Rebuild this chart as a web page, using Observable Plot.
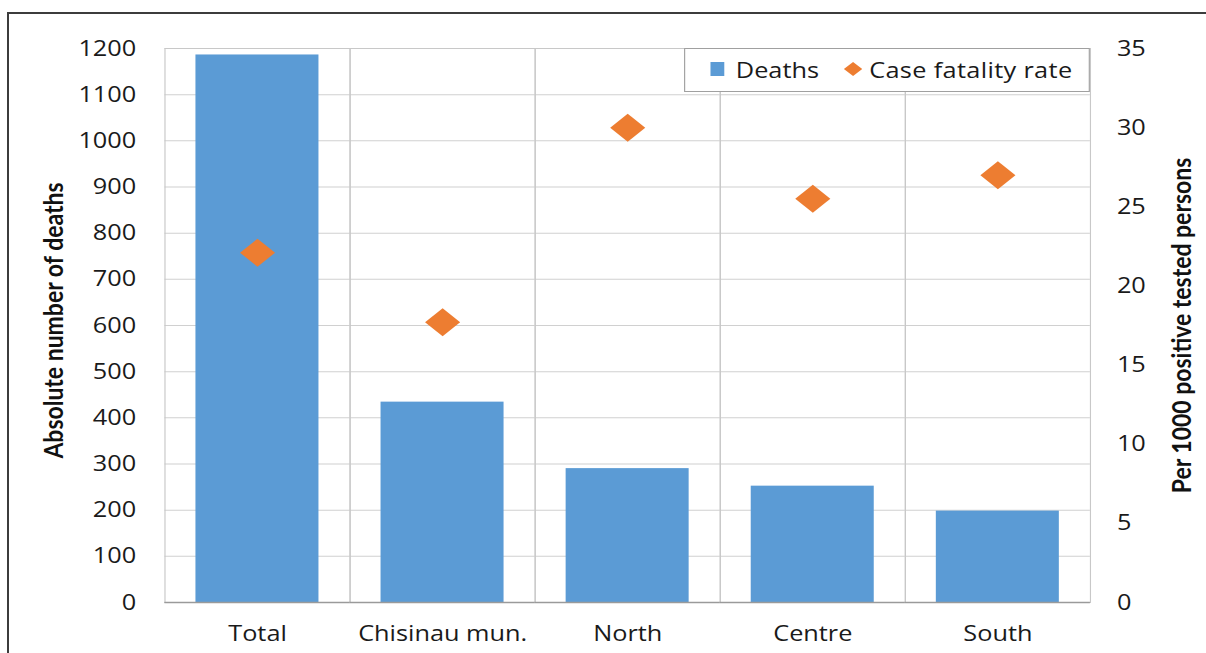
<!DOCTYPE html>
<html>
<head>
<meta charset="utf-8">
<script src="https://cdn.jsdelivr.net/npm/d3@7"></script>
<script src="https://cdn.jsdelivr.net/npm/@observablehq/plot@0.6"></script>
<style>
  html, body { margin: 0; padding: 0; background: #fff; overflow: hidden; width: 1206px; height: 653px; }
  #wrap { position: absolute; left: 0; top: 0; width: 1049px; height: 653px; transform: scaleX(1.14966); transform-origin: 0 0; }
  #frame { position: absolute; left: 7px; top: 12px; width: 1400px; height: 900px; border: 2px solid #3c3c3c; pointer-events: none; }
  #legend { position: absolute; left: 595px; top: 48px; width: 353px; height: 44px; box-sizing: border-box; background: #fff; border: 1.5px solid #a0a0a0; font-family: "Open Sans", sans-serif; font-size: 22px; color: #1a1a1a; }
  #legend .it { position: absolute; top: 0; height: 41px; line-height: 41px; white-space: nowrap; }
  #legend .sq { position: absolute; left: 22px; top: 13px; width: 12px; height: 14px; background: #5b9bd5; }
  #legend .dm { position: absolute; left: 138px; top: 13px; width: 16px; height: 14px; }
</style>
</head>
<body>
<div id="wrap">
  <div id="chart"></div>
  <div id="legend">
    <div class="sq"></div>
    <div class="it" style="left:44px">Deaths</div>
    <svg class="dm" viewBox="0 0 16 14"><polygon points="8,0 16,7 8,14 0,7" fill="#ed7d31"/></svg>
    <div class="it" style="left:160px; letter-spacing:0.3px">Case fatality rate</div>
  </div>
</div>
<div id="frame"></div>
<script>
const categories = ["Total", "Chisinau mun.", "North", "Centre", "South"];
const deaths = [1186, 434, 290, 252, 198];
const fatalityRate = [22.1, 17.7, 30.0, 25.5, 27.0];
const deathTicks = [0, 100, 200, 300, 400, 500, 600, 700, 800, 900, 1000, 1100, 1200];
const rateTicks = [0, 5, 10, 15, 20, 25, 30, 35];

const k = 1200 / 35; // right axis (rate) mapped onto left axis (deaths)
const table = categories.map((c, i) => ({category: c, deaths: deaths[i], rate: fatalityRate[i]}));

const wideDiamond = {
  draw(context, size) {
    const r = Math.sqrt(size / Math.PI);
    const w = r * 1.09;
    context.moveTo(0, -r);
    context.lineTo(w, 0);
    context.lineTo(0, r);
    context.lineTo(-w, 0);
    context.closePath();
  }
};

const chart = Plot.plot({
  width: 1049,
  height: 653,
  marginLeft: 141,
  marginRight: 100,
  marginTop: 48,
  marginBottom: 51,
  style: {fontFamily: "'Open Sans', sans-serif", fontSize: "22px", color: "#1a1a1a", background: "transparent"},
  fx: {domain: categories, padding: 0, label: null},
  y: {domain: [0, 1200]},
  marks: [
    Plot.gridY(deathTicks, {stroke: "#d0d0d0", strokeOpacity: 1}),
    Plot.frame({stroke: "#c8c8c8", strokeOpacity: 1}),
    Plot.barY(table, {fx: "category", y: "deaths", fill: "#5b9bd5", insetLeft: 27, insetRight: 27}),
    Plot.ruleY([0], {stroke: "#9a9a9a", strokeWidth: 1.5}),
    Plot.dot(table, {fx: "category", y: d => d.rate * k, symbol: wideDiamond, r: 14, fill: "#ed7d31", stroke: "none"}),
    Plot.axisY(deathTicks, {anchor: "left", facetAnchor: "left", tickSize: 0, tickPadding: 25, fontSize: 22, label: null, fill: "#1a1a1a", tickFormat: d => String(d)}),
    Plot.axisY(rateTicks.map(t => t * k), {anchor: "right", facetAnchor: "right", tickSize: 0, tickPadding: 23, fontSize: 22, label: null, fill: "#1a1a1a", tickFormat: d => String(Math.round(d / k))}),
    Plot.axisFx({anchor: "bottom", tickSize: 0, tickPadding: 23, fontSize: 22, label: null, fill: "#1a1a1a"}),
    Plot.text(["Absolute number of deaths"], {text: d => d, frameAnchor: "left", facetAnchor: "left", textAnchor: "middle", rotate: -90, dx: -96, dy: -5, fontSize: 23, fontWeight: "bold", fontFamily: "Lato, sans-serif", fill: "#111"}),
    Plot.text(["Per 1000 positive tested persons"], {text: d => d, frameAnchor: "right", facetAnchor: "right", textAnchor: "middle", rotate: -90, dx: 80, fontSize: 23, fontWeight: "bold", fontFamily: "Lato, sans-serif", fill: "#111"})
  ]
});
document.getElementById("chart").appendChild(chart);
</script>
</body>
</html>
